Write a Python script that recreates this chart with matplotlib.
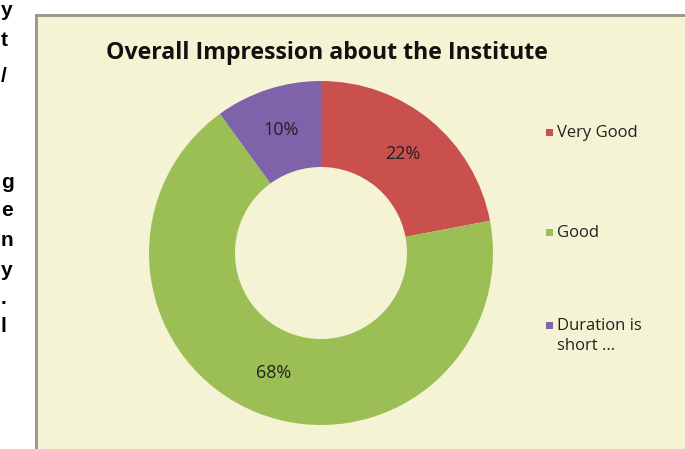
import matplotlib
matplotlib.use("Agg")
import matplotlib.pyplot as plt
from matplotlib.patches import Rectangle

W, H = 685, 449
DPI = 100

title = "Overall Impression about the Institute"
categories = ["Very Good", "Good", "Duration is\nshort ..."]
shares = [22, 68, 10]
colors = ["#C9504C", "#9BBF55", "#7E62AA"]

# fragments of the neighbouring page column, clipped at the page edge
margin_chars = ["y", "t", "/", "g", "e", "n", "y", ".", "l"]
margin_rows = [11, 40, 76, 183, 211, 240, 270, 298, 327]

bg = "#F4F3D3"
border = "#9C9C8C"
font = "Open Sans"

fig = plt.figure(figsize=(W / DPI, H / DPI), dpi=DPI, facecolor="white")


def px(x, y):
    """pixel (from top-left) -> figure fraction"""
    return x / W, 1 - y / H


# chart area with grey frame on the left and top
x0, y0 = 35, 14
fig.patches.append(Rectangle(px(x0, H), (W - x0) / W, (H - y0) / H,
                             transform=fig.transFigure, facecolor=bg,
                             edgecolor="none", zorder=-2))
fig.patches.append(Rectangle(px(x0, H), 2.5 / W, (H - y0) / H,
                             transform=fig.transFigure, facecolor=border,
                             edgecolor="none", zorder=-1))
fig.patches.append(Rectangle(px(x0, y0 + 2.5), (W - x0) / W, 2.5 / H,
                             transform=fig.transFigure, facecolor=border,
                             edgecolor="none", zorder=-1))

for ch, row in zip(margin_chars, margin_rows):
    fig.text(*px(1, row), ch, ha="left", va="center", fontsize=15,
             fontweight="bold", family="Liberation Sans", color="black")

# donut
cx, cy, r = 321, 253, 172
ax = fig.add_axes([(cx - r) / W, (H - cy - r) / H, 2 * r / W, 2 * r / H],
                  zorder=2)
ax.set_facecolor("none")
wedges, _, autotexts = ax.pie(
    shares, colors=colors, startangle=90, counterclock=False,
    autopct=lambda p: f"{p:.0f}%", pctdistance=0.75,
    wedgeprops=dict(width=0.5, edgecolor="none"),
    textprops=dict(fontsize=13, family=font, color="#222222"))
ax.set_xlim(-1, 1)
ax.set_ylim(-1, 1)
ax.set_aspect("equal")
ax.axis("off")

fig.text(*px(327, 53), title, ha="center", va="center", fontsize=16.7,
         fontweight="bold", family=font, color="#111111")

# legend
leg_x = 549
leg_rows = [132, 232, 325]
for w, lab, row in zip(wedges, categories, leg_rows):
    fig.patches.append(Rectangle(px(leg_x - 3.5, row + 3.5), 7 / W, 7 / H,
                                 transform=fig.transFigure,
                                 facecolor=w.get_facecolor(), edgecolor="none"))
    fig.text(*px(leg_x + 8, row - 7), lab, ha="left", va="top",
             fontsize=12, family=font, color="#222222", linespacing=1.35)

fig.savefig("out.png", dpi=DPI, facecolor="white")
